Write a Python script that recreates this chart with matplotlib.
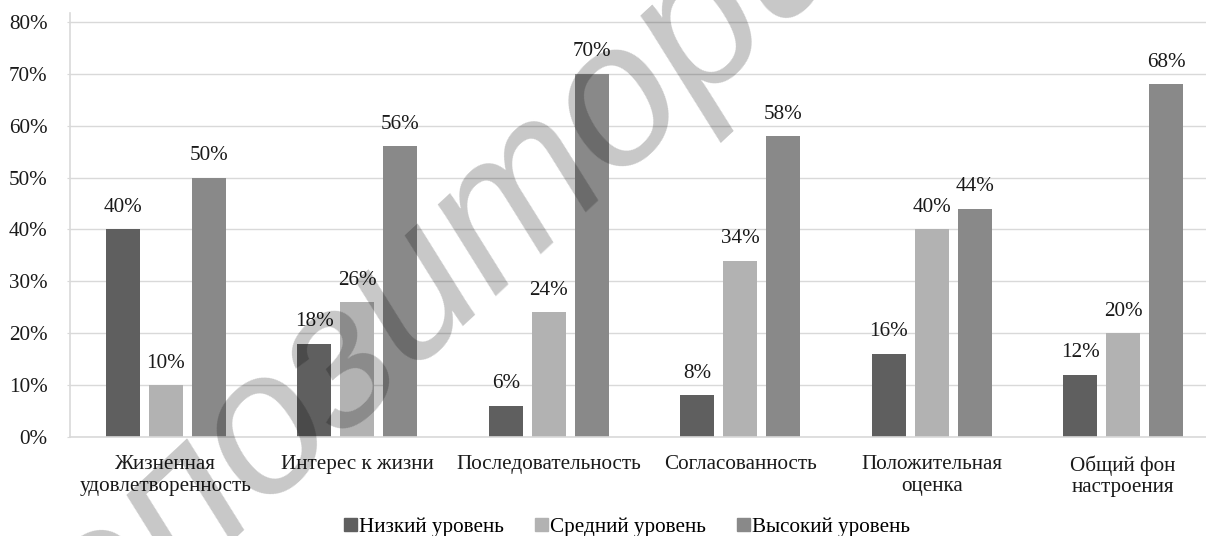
import matplotlib
matplotlib.use("Agg")
import matplotlib.pyplot as plt
from matplotlib.patches import Patch
import numpy as np

plt.rcParams['font.family'] = ['Liberation Serif', 'DejaVu Serif']
plt.rcParams['font.size'] = 15.2

categories = ['Жизненная\nудовлетворенность', 'Интерес к жизни', 'Последовательность',
              'Согласованность', 'Положительная\nоценка', 'Общий фон\nнастроения']
series_names = ['Низкий уровень', 'Средний уровень', 'Высокий уровень']
low = [0.40, 0.18, 0.06, 0.08, 0.16, 0.12]
mid = [0.10, 0.26, 0.24, 0.34, 0.40, 0.20]
high = [0.50, 0.56, 0.70, 0.58, 0.44, 0.68]
colors = ['#5f5f5f', '#b2b2b2', '#898989']
yticks = [0.0, 0.1, 0.2, 0.3, 0.4, 0.5, 0.6, 0.7, 0.8]

grid_c = '#d9d9d9'

fig = plt.figure(figsize=(12.06, 5.36), dpi=100)
ax = fig.add_axes([0.058, 0.1847, 0.9527, 0.7918])

x = np.arange(len(categories))
step = 0.2245
width = 0.1775
for i, vals in enumerate([low, mid, high]):
    pos = x + (i - 1) * step
    bars = ax.bar(pos, vals, width, color=colors[i], zorder=2)
    for b, v in zip(bars, vals):
        ax.annotate('{:.0f}%'.format(v * 100), (b.get_x() + b.get_width() / 2, v),
                    xytext=(0, 9), textcoords='offset points',
                    ha='center', va='bottom', color='#1a1a1a')

ax.set_xlim(-0.5, len(categories) - 0.5)
ax.set_ylim(0, 0.818)
ax.set_yticks(yticks)
ax.set_yticklabels(['{:.0f}%'.format(t * 100) for t in yticks], color='#1a1a1a')
ax.yaxis.grid(True, color=grid_c, linewidth=1.0, zorder=0)
ax.set_axisbelow(True)
ax.set_xticks(x)
ax.set_xticklabels(categories, linespacing=1.2, color='#1a1a1a')
ax.tick_params(axis='x', length=0, pad=13)
ax.tick_params(axis='y', length=2, color=grid_c, pad=14)
for s in ['top', 'right']:
    ax.spines[s].set_visible(False)
ax.spines['left'].set_color(grid_c)
ax.spines['bottom'].set_color(grid_c)
ax.spines['left'].set_linewidth(1.2)
ax.spines['bottom'].set_linewidth(1.2)

handles = [Patch(color=c) for c in colors]
fig.legend(handles, series_names, loc='center', bbox_to_anchor=(627 / 1206, 0.016),
           ncol=3, frameon=False, handlelength=0.6, handleheight=0.6,
           handletextpad=0.08, columnspacing=1.5, borderpad=0)

# watermark
fig.text(472 / 1206, 1 - 312 / 536, 'Репозиторий', family='Liberation Sans',
         style='italic', fontsize=145, rotation=43, rotation_mode='anchor',
         color='black', alpha=0.22, ha='center', va='baseline')

fig.savefig('out.png', dpi=100)
